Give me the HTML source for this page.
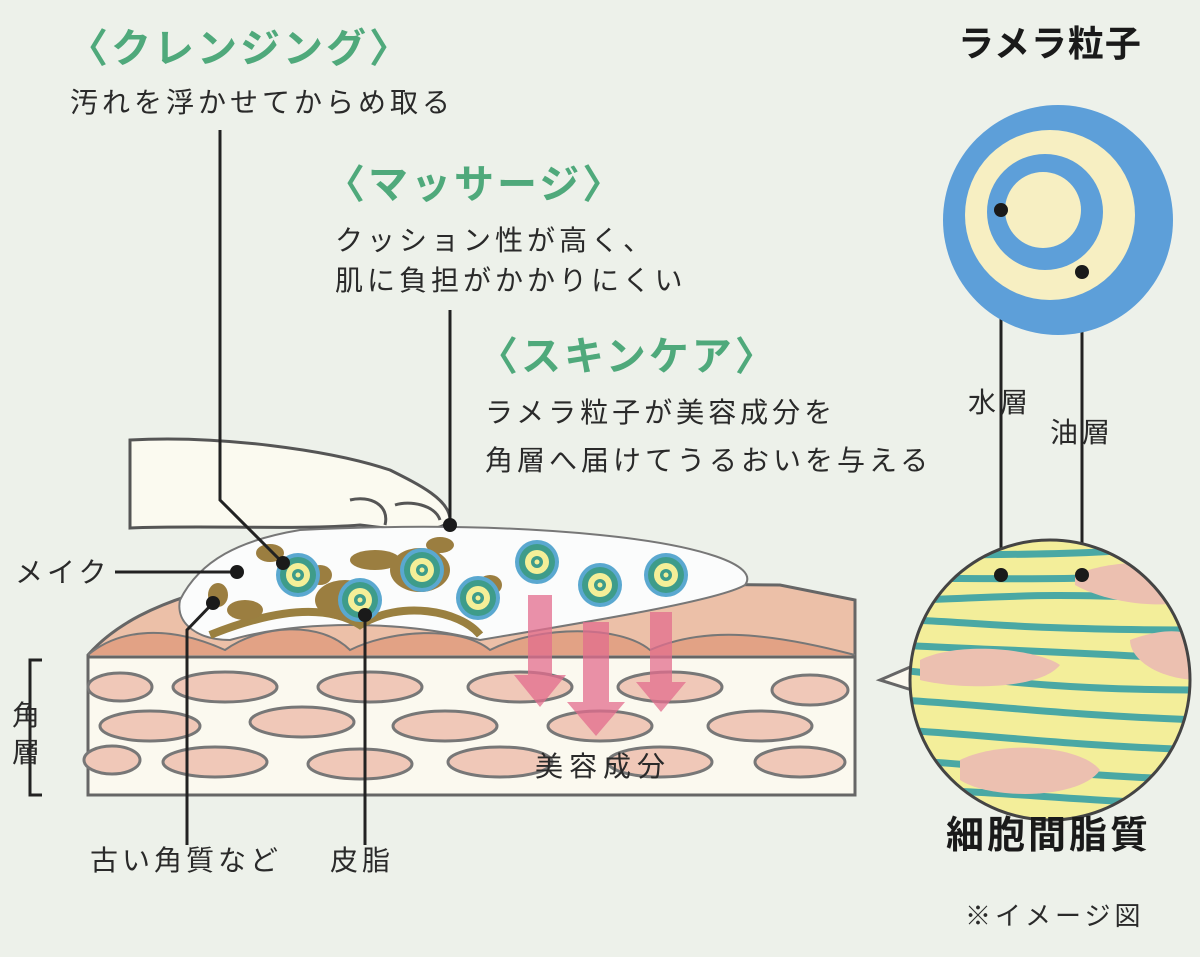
<!DOCTYPE html>
<html><head><meta charset="utf-8"><style>
body{margin:0;background:#edf1ea}
svg{display:block}
text{font-family:"Liberation Sans","Noto Sans CJK JP",sans-serif}
</style></head><body>
<svg width="1200" height="957" viewBox="0 0 1200 957" xmlns="http://www.w3.org/2000/svg">
<rect width="1200" height="957" fill="#edf1ea"/>
<!-- hand -->
<path d="M130 440 C220 435 330 450 390 470 C420 485 450 500 450 520 C440 535 400 530 360 525 C300 530 200 525 130 528 Z" fill="#fbfaf0" stroke="#555" stroke-width="3"/>
<path d="M350 500 C370 495 390 505 385 525" fill="none" stroke="#555" stroke-width="3"/>
<path d="M395 505 C410 500 435 505 440 520" fill="none" stroke="#555" stroke-width="3"/>
<!-- skin top -->
<path d="M88 655 C110 630 150 600 250 580 L780 585 L855 600 L855 660 L88 660 Z" fill="#ecc0a8" stroke="#666" stroke-width="3"/>
<path d="M88 655 C120 628 170 625 225 650 C260 625 320 620 350 650 C390 630 460 625 490 650 C540 625 620 625 650 650 C700 628 760 630 855 655" fill="#e2a285" stroke="#777" stroke-width="2"/>
<!-- block -->
<rect x="88" y="657" width="767" height="138" fill="#fbf9ef" stroke="#666" stroke-width="3"/>
<g fill="#f0c8b8" stroke="#777" stroke-width="3">
<ellipse cx="120" cy="687" rx="32" ry="14"/><ellipse cx="225" cy="687" rx="52" ry="15"/><ellipse cx="370" cy="687" rx="52" ry="15"/><ellipse cx="520" cy="687" rx="52" ry="15"/><ellipse cx="670" cy="687" rx="52" ry="15"/><ellipse cx="810" cy="690" rx="38" ry="15"/>
<ellipse cx="150" cy="726" rx="50" ry="15"/><ellipse cx="302" cy="722" rx="52" ry="15"/><ellipse cx="445" cy="726" rx="52" ry="15"/><ellipse cx="600" cy="726" rx="52" ry="15"/><ellipse cx="760" cy="726" rx="52" ry="15"/>
<ellipse cx="112" cy="760" rx="28" ry="14"/><ellipse cx="215" cy="762" rx="52" ry="15"/><ellipse cx="360" cy="764" rx="52" ry="15"/><ellipse cx="500" cy="762" rx="52" ry="15"/><ellipse cx="660" cy="762" rx="52" ry="15"/><ellipse cx="800" cy="762" rx="45" ry="15"/>
</g>
<!-- foam -->
<path d="M180 600 C200 560 240 540 300 530 C400 525 500 525 600 535 C700 545 760 565 745 585 C720 600 600 620 480 640 C400 620 300 620 230 640 C200 640 175 625 180 600 Z" fill="#fbfcfc" stroke="#777" stroke-width="2"/>
<path d="M210 635 C260 615 320 600 360 625 C400 600 460 610 480 635" fill="none" stroke="#9a8040" stroke-width="8"/>
<g fill="#9b7e40">
<ellipse cx="270" cy="553" rx="14" ry="9"/><ellipse cx="245" cy="610" rx="18" ry="10"/><ellipse cx="218" cy="595" rx="10" ry="12"/><ellipse cx="320" cy="575" rx="12" ry="10"/><ellipse cx="375" cy="560" rx="25" ry="10"/><ellipse cx="420" cy="570" rx="30" ry="22"/><ellipse cx="345" cy="600" rx="30" ry="20"/><ellipse cx="490" cy="585" rx="12" ry="10"/><ellipse cx="440" cy="545" rx="14" ry="8"/>
</g>
<g>
<g transform="translate(298,575)"><circle r="22" fill="#5aa8d0"/><circle r="18" fill="#3e9c8a"/><circle r="12" fill="#f4ef98"/><circle r="6" fill="#3e9c8a"/><circle r="2.5" fill="#f4ef98"/></g>
<g transform="translate(360,600)"><circle r="22" fill="#5aa8d0"/><circle r="18" fill="#3e9c8a"/><circle r="12" fill="#f4ef98"/><circle r="6" fill="#3e9c8a"/><circle r="2.5" fill="#f4ef98"/></g>
<g transform="translate(422,570)"><circle r="22" fill="#5aa8d0"/><circle r="18" fill="#3e9c8a"/><circle r="12" fill="#f4ef98"/><circle r="6" fill="#3e9c8a"/><circle r="2.5" fill="#f4ef98"/></g>
<g transform="translate(478,598)"><circle r="22" fill="#5aa8d0"/><circle r="18" fill="#3e9c8a"/><circle r="12" fill="#f4ef98"/><circle r="6" fill="#3e9c8a"/><circle r="2.5" fill="#f4ef98"/></g>
<g transform="translate(537,562)"><circle r="22" fill="#5aa8d0"/><circle r="18" fill="#3e9c8a"/><circle r="12" fill="#f4ef98"/><circle r="6" fill="#3e9c8a"/><circle r="2.5" fill="#f4ef98"/></g>
<g transform="translate(600,585)"><circle r="22" fill="#5aa8d0"/><circle r="18" fill="#3e9c8a"/><circle r="12" fill="#f4ef98"/><circle r="6" fill="#3e9c8a"/><circle r="2.5" fill="#f4ef98"/></g>
<g transform="translate(666,575)"><circle r="22" fill="#5aa8d0"/><circle r="18" fill="#3e9c8a"/><circle r="12" fill="#f4ef98"/><circle r="6" fill="#3e9c8a"/><circle r="2.5" fill="#f4ef98"/></g>
</g>
<!-- arrows -->
<g fill="#e36d8e" opacity="0.75">
<path d="M528 595 h24 v80 h14 l-26 32 l-26 -32 h14z"/>
<path d="M583 622 h26 v80 h16 l-29 34 l-29 -34 h16z"/>
<path d="M650 612 h22 v70 h14 l-25 30 l-25 -30 h14z"/>
</g>
<!-- leader lines -->
<g stroke="#222" stroke-width="3" fill="none">
<polyline points="220,130 220,500 283,563"/>
<line x1="450" y1="310" x2="450" y2="525"/>
<line x1="115" y1="572" x2="237" y2="572"/>
<polyline points="187,845 187,630 213,603"/>
<line x1="365" y1="845" x2="365" y2="615"/>
<line x1="1001" y1="210" x2="1001" y2="575"/>
<line x1="1082" y1="272" x2="1082" y2="575"/>
<polyline points="42,660 30,660 30,795 42,795"/>
</g>
<g fill="#1a1a1a">
<circle cx="283" cy="563" r="7"/><circle cx="450" cy="525" r="7"/><circle cx="237" cy="572" r="7"/><circle cx="213" cy="603" r="7"/><circle cx="365" cy="615" r="7"/>
</g>
<!-- lamella -->
<circle cx="1058" cy="220" r="115" fill="#5d9fd9"/>
<circle cx="1050" cy="215" r="85" fill="#f7efc2"/>
<circle cx="1045" cy="212" r="58" fill="#5d9fd9"/>
<circle cx="1043" cy="210" r="38" fill="#f7efc2"/>
<circle cx="1001" cy="210" r="7" fill="#1a1a1a"/><circle cx="1082" cy="272" r="7" fill="#1a1a1a"/>
<!-- big circle -->
<path d="M915 665 L880 680 L912 690 Z" fill="#fbf9ef" stroke="#666" stroke-width="3"/>
<defs><clipPath id="c"><circle cx="1050" cy="680" r="140"/></clipPath></defs>
<circle cx="1050" cy="680" r="140" fill="#f3ee9a"/>
<g clip-path="url(#c)" stroke="#4aa8a4" stroke-width="7" fill="none">
<path d="M900 560 C960 550 1040 560 1200 545"/><path d="M900 580 C980 575 1060 585 1200 570"/><path d="M900 600 C980 600 1020 590 1200 600"/><path d="M900 620 C960 620 1000 630 1200 630"/><path d="M900 645 C980 650 1050 650 1200 660"/><path d="M900 670 C990 680 1060 690 1200 690"/><path d="M900 700 C990 705 1060 715 1200 720"/><path d="M900 730 C990 735 1060 745 1200 750"/><path d="M900 760 C990 765 1060 775 1200 780"/><path d="M900 790 C990 790 1060 800 1200 805"/>
</g>
<g clip-path="url(#c)" fill="#ecc0b0">
<path d="M1075 575 C1120 555 1200 560 1200 590 C1200 610 1120 610 1075 585Z"/>
<path d="M920 660 C960 640 1040 650 1060 665 C1040 690 960 690 920 680Z"/>
<path d="M1130 640 C1170 625 1200 630 1200 650 L1200 680 C1160 680 1130 660 1130 640Z"/>
<path d="M960 760 C1000 740 1080 745 1100 770 C1080 800 990 800 960 780Z"/>
</g>
<circle cx="1050" cy="680" r="140" fill="none" stroke="#444" stroke-width="3"/>
<circle cx="1001" cy="575" r="7" fill="#1a1a1a"/><circle cx="1082" cy="575" r="7" fill="#1a1a1a"/>
<!-- text -->
<g fill="#4fa97b" font-weight="bold" font-size="40" letter-spacing="3">
<text x="68" y="62">〈クレンジング〉</text>
<text x="325" y="198">〈マッサージ〉</text>
<text x="478" y="370">〈スキンケア〉</text>
</g>
<g fill="#2a2a2a" font-size="28" letter-spacing="4">
<text x="70" y="112">汚れを浮かせてからめ取る</text>
<text x="335" y="250">クッション性が高く、</text>
<text x="335" y="290">肌に負担がかかりにくい</text>
<text x="485" y="422">ラメラ粒子が美容成分を</text>
<text x="485" y="470">角層へ届けてうるおいを与える</text>
<text x="15" y="582">メイク</text>
<text x="90" y="870">古い角質など</text>
<text x="330" y="870">皮脂</text>
<text x="12" y="725">角</text>
<text x="12" y="762">層</text>
<text x="968" y="412">水層</text>
<text x="1050" y="442">油層</text>
<text x="965" y="925" font-size="26">※イメージ図</text>
</g>
<text x="535" y="776" font-size="28" letter-spacing="6" fill="#2a2a2a">美容成分</text>
<text x="958" y="56" font-size="36" font-weight="bold" letter-spacing="1" fill="#1a1a1a">ラメラ粒子</text>
<text x="946" y="848" font-size="38" font-weight="bold" letter-spacing="3" fill="#1a1a1a">細胞間脂質</text>
</svg>
</body></html>
